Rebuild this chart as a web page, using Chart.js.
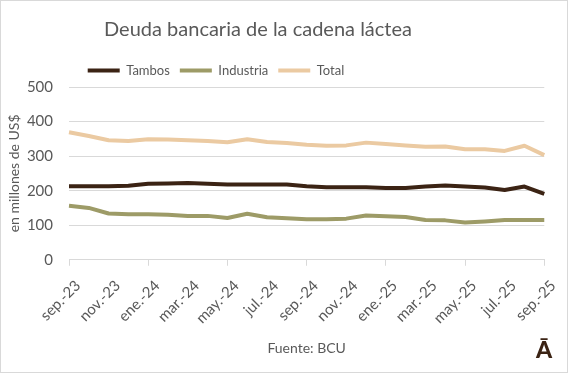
<!DOCTYPE html>
<html>
<head>
<meta charset="utf-8">
<script src="https://cdn.jsdelivr.net/npm/chart.js@4"></script>
<style>
  html, body { margin: 0; padding: 0; background: #fff; }
  canvas { display: block; }
</style>
</head>
<body>
<canvas id="graficoDeuda" width="568" height="373"></canvas>
<script>
// datos (millones de US$)
const meses = ["sep.-23","oct.-23","nov.-23","dic.-23","ene.-24","feb.-24","mar.-24","abr.-24","may.-24","jun.-24","jul.-24","ago.-24",
               "sep.-24","oct.-24","nov.-24","dic.-24","ene.-25","feb.-25","mar.-25","abr.-25","may.-25","jun.-25","jul.-25","ago.-25","sep.-25"];
const tambos = [213,213,213,214,220,221,222,220,218,218,218,218,213,210,210,210,208,208,212,215,212,209,202,212,191];
const industria = [156,150,134,132,132,130,127,127,121,133,123,120,117,117,119,128,126,124,115,114,108,111,115,115,115];
const total = [369,358,346,344,349,348,346,344,340,349,341,338,333,330,331,339,335,331,327,328,320,320,315,330,303];
const ticksY = [0,100,200,300,400,500];

const COR_TAMBOS = "#3b2314";
const COR_INDUSTRIA = "#9d9b67";
const COR_TOTAL = "#ebcaa2";
const COR_TEXTO = "#595959";
const COR_GRADE = "#d9d9d9";
const FONTE = "Lato, 'Open Sans', sans-serif";

// fundo branco, moldura e logo
const moldura = {
    id: "moldura",
    beforeDraw(chart) {
        const c = chart.ctx;
        c.save();
        c.fillStyle = "#fff";
        c.fillRect(0, 0, chart.width, chart.height);
        c.strokeStyle = "#d9d9d9";
        c.lineWidth = 1;
        c.strokeRect(0.5, 0.5, chart.width - 1, chart.height - 1);
        c.restore();
    },
    afterDraw(chart) {
        const c = chart.ctx;
        c.save();
        c.fillStyle = COR_TAMBOS;
        c.font = "900 23px " + FONTE;
        c.textAlign = "center";
        c.textBaseline = "alphabetic";
        c.fillText("Ā", 544, 358);
        c.restore();
    }
};

// título e legenda deslocados para a esquerda, como no original
const mover = {
    id: "mover",
    afterLayout(chart) {
        if (chart.legend) chart.legend.left -= 126;
        if (chart.titleBlock) chart.titleBlock.left -= 42;
    }
};

function serie(label, data, cor) {
    return {
        label,
        data,
        borderColor: cor,
        backgroundColor: cor,
        borderWidth: 4,
        pointRadius: 0,
        tension: 0,
        borderJoinStyle: "round"
    };
}

new Chart(document.getElementById("graficoDeuda"), {
    type: "line",
    data: {
        labels: meses,
        datasets: [
            serie("Tambos", tambos, COR_TAMBOS),
            serie("Industria", industria, COR_INDUSTRIA),
            serie("Total", total, COR_TOTAL)
        ]
    },
    options: {
        responsive: false,
        animation: false,
        layout: { padding: { left: 6, right: 16, top: 12, bottom: 16 } },
        plugins: {
            title: {
                display: true,
                text: "Deuda bancaria de la cadena láctea",
                color: COR_TEXTO,
                font: { family: FONTE, size: 20, weight: "normal" },
                padding: { top: 6, bottom: 12 }
            },
            legend: {
                position: "top",
                labels: {
                    color: COR_TEXTO,
                    font: { family: FONTE, size: 13 },
                    boxWidth: 32,
                    boxHeight: 4,
                    padding: 10,
                    generateLabels: chart =>
                        Chart.defaults.plugins.legend.labels.generateLabels(chart)
                            .map(l => ({ ...l, lineWidth: 0 }))
                }
            },
            tooltip: { enabled: false }
        },
        scales: {
            x: {
                offset: false,
                grid: {
                    drawOnChartArea: false,
                    tickLength: 6,
                    color: ctx => (ctx.index % 2 === 0 ? COR_GRADE : "transparent")
                },
                border: { color: COR_GRADE },
                ticks: {
                    autoSkip: false,
                    maxRotation: 45,
                    minRotation: 45,
                    labelOffset: 9,
                    padding: 11,
                    color: COR_TEXTO,
                    font: { family: FONTE, size: 15 },
                    callback: (v, i) => (i % 2 === 0 ? meses[i] : null)
                },
                title: {
                    display: true,
                    text: "Fuente: BCU",
                    color: COR_TEXTO,
                    font: { family: FONTE, size: 14 },
                    padding: { top: 2, bottom: 0 }
                }
            },
            y: {
                min: 0,
                max: 500,
                afterBuildTicks: axis => { axis.ticks = ticksY.map(v => ({ value: v })); },
                afterFit: axis => { axis.width = 63; },
                grid: { color: COR_GRADE, drawTicks: false },
                border: { display: false },
                ticks: {
                    color: COR_TEXTO,
                    font: { family: FONTE, size: 15 },
                    padding: 16
                },
                title: {
                    display: true,
                    text: "en millones de US$",
                    color: COR_TEXTO,
                    font: { family: FONTE, size: 14 },
                    padding: { top: 0, bottom: 4 }
                }
            }
        }
    },
    plugins: [moldura, mover]
});
</script>
</body>
</html>
